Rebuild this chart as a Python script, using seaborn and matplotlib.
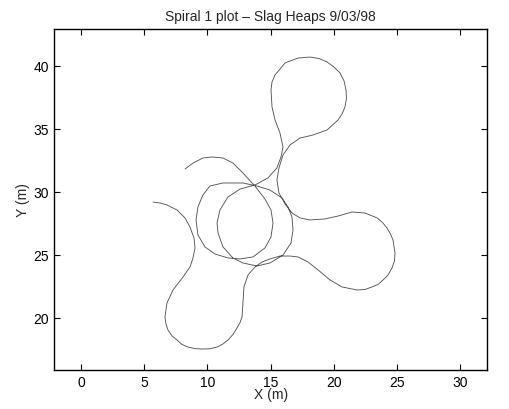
import matplotlib
matplotlib.use("Agg")
import pandas as pd
import seaborn as sns
import matplotlib.pyplot as plt

# path of the vehicle (metres), in driving order
# start -> lower left lobe -> right lobe -> top lobe -> two inner circles -> end
x_m = [5.70, 6.25, 6.80, 7.59, 8.23, 8.62, 8.94, 9.02, 8.86, 8.62,
       8.07, 7.28, 6.80, 6.64, 6.72, 6.88, 7.20, 7.59, 7.99, 8.46,
       9.02, 9.57, 10.20, 10.76, 11.23, 11.63, 12.02, 12.34, 12.58, 12.74,
       12.81, 12.89, 13.21, 13.76, 14.32, 14.95, 15.74, 16.53, 17.16, 17.96,
       18.75, 19.70, 20.65, 21.83, 22.47, 23.02, 23.50, 23.89, 24.29, 24.60,
       24.80, 24.84, 24.68, 24.48, 24.21, 23.85, 23.42, 22.47, 21.44, 20.33,
       19.30, 18.12, 17.32, 16.69, 16.14, 15.66, 15.50, 15.66, 15.98, 16.53,
       17.32, 18.35, 19.46, 20.33, 20.65, 20.88, 21.00, 20.96, 20.81, 20.49,
       20.01, 19.46, 18.83, 18.12, 17.16, 16.14, 15.74, 15.35, 15.11, 15.03,
       15.11, 15.35, 15.74, 15.98, 15.82, 15.50, 14.79, 13.76, 12.58, 11.63,
       10.99, 10.76, 10.84, 11.23, 12.02, 12.81, 13.92, 14.95, 15.98, 16.61,
       16.77, 16.69, 16.37, 15.90, 14.95, 13.92, 12.81, 11.23, 10.20, 9.65,
       9.25, 9.10, 9.25, 9.81, 10.60, 11.63, 12.58, 13.61, 14.55, 15.03,
       15.19, 15.03, 14.55, 13.76, 12.81, 12.02, 11.23, 10.36, 9.65, 8.86,
       8.23]
y_m = [29.22, 29.14, 28.99, 28.59, 27.96, 27.24, 26.37, 25.58, 24.79, 24.07,
       23.28, 22.25, 21.22, 20.11, 19.56, 19.08, 18.61, 18.29, 17.93, 17.73,
       17.60, 17.57, 17.59, 17.73, 17.97, 18.29, 18.72, 19.24, 19.67, 20.11,
       21.22, 22.49, 23.44, 24.07, 24.47, 24.71, 24.94, 24.94, 24.87, 24.47,
       23.84, 23.04, 22.49, 22.25, 22.29, 22.49, 22.69, 23.04, 23.44, 23.99,
       24.55, 25.18, 26.21, 26.69, 27.16, 27.60, 27.96, 28.35, 28.43, 28.11,
       27.88, 27.80, 27.96, 28.35, 29.07, 29.94, 30.97, 31.92, 32.95, 33.74,
       34.29, 34.53, 34.93, 35.72, 36.20, 36.75, 37.42, 38.10, 38.81, 39.45,
       39.92, 40.32, 40.59, 40.71, 40.63, 40.24, 39.76, 39.29, 38.73, 38.10,
       36.75, 35.72, 34.69, 33.58, 32.79, 31.92, 31.13, 30.57, 30.25, 29.62,
       28.59, 27.56, 26.77, 25.66, 24.79, 24.39, 24.15, 24.39, 25.02, 25.97,
       27.00, 28.03, 28.83, 29.54, 30.17, 30.49, 30.73, 30.73, 30.49, 29.78,
       28.83, 27.80, 26.61, 25.66, 25.10, 24.79, 24.71, 24.87, 25.58, 26.45,
       27.56, 28.59, 29.46, 30.49, 31.52, 32.31, 32.71, 32.79, 32.71, 32.31,
       31.84]

x_ticks = [0, 5, 10, 15, 20, 25, 30]
y_ticks = [20, 25, 30, 35, 40]

df = pd.DataFrame({"x": x_m, "y": y_m})

sns.set_style("ticks")
plt.rcParams['font.family'] = ['Liberation Sans', 'DejaVu Sans']

fig = plt.figure(figsize=(5.1, 4.09), dpi=100)
ax = fig.add_axes([0.1065, 0.0954, 0.849, 0.833])

sns.lineplot(data=df, x="x", y="y", sort=False, estimator=None,
             color="#555555", linewidth=0.65, ax=ax)

ax.set_xlim(-2.11, 32.14)
ax.set_ylim(15.91, 42.91)
ax.set_xticks(x_ticks)
ax.set_yticks(y_ticks)
ax.tick_params(direction='in', top=True, right=True, length=4, width=0.8,
               labelsize=10, colors='black', pad=4)
for s in ax.spines.values():
    s.set_linewidth(1)
    s.set_color('black')

ax.set_title("Spiral 1 plot – Slag Heaps 9/03/98", fontsize=10, pad=6)
ax.set_xlabel("X (m)", fontsize=10, labelpad=-1)
ax.set_ylabel("Y (m)", fontsize=10, labelpad=2)

fig.savefig("out.png", dpi=100)
